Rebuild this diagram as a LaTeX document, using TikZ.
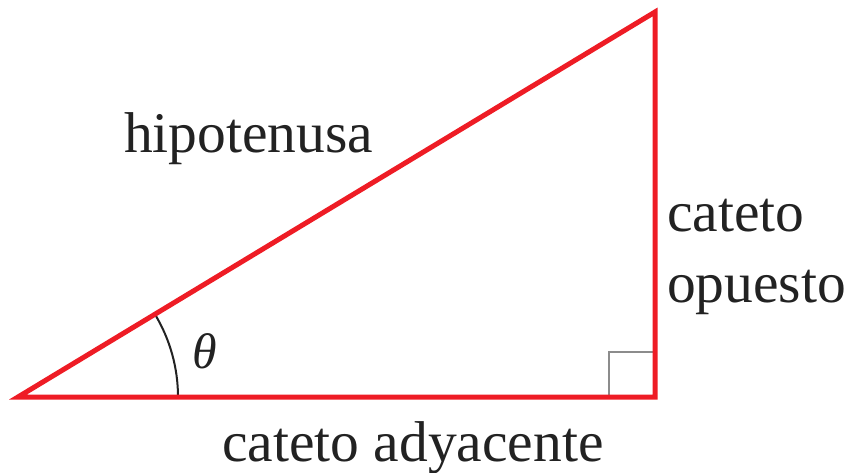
\documentclass[tikz,border=0pt]{standalone}
\usepackage{fontspec}
\setmainfont{Liberation Serif}
\newfontfamily\lserif{Liberation Serif}
\definecolor{trired}{HTML}{EE1C25}
\definecolor{txtgray}{HTML}{222222}
\definecolor{markgray}{HTML}{8C8C8C}
\begin{document}
\begin{tikzpicture}[x=1pt,y=-1pt,
  side/.style={draw=trired,line width=5pt,line join=miter},
  lbl/.style={inner sep=0pt,anchor=base west,text=txtgray,font=\lserif\fontsize{57.5}{71}\selectfont},
  rmark/.style={draw=markgray,line width=2.2pt},
  anglearc/.style={draw=txtgray,line width=2pt}]
\useasboundingbox (0,0) rectangle (850,472);
\coordinate (A) at (18,397);
\coordinate (B) at (655,397);
\coordinate (C) at (655,12);
% right angle mark
\coordinate (R1) at (609,397);
\coordinate (R2) at (609,352);
\coordinate (R3) at (655,352);
\draw[rmark] (R1) -- (R2) -- (R3);
% angle arc
\draw[anglearc] (A) ++(0:160) arc[start angle=0,end angle=-31.15,radius=160];
% triangle
\draw[side] (A) -- (B) -- (C) -- cycle;
% labels
\node[lbl] (hyp) at (124,152) {hipotenusa};
\node[lbl] (adj) at (222,461) {cateto adyacente};
\node[lbl] (op1) at (667,231) {cateto};
\node[lbl] (op2) at (667,302) {opuesto};
\node[inner sep=0pt,text=txtgray,font=\lserif\itshape\fontsize{50}{60}\selectfont] (th) at (205,351) {θ};
\end{tikzpicture}
\end{document}
